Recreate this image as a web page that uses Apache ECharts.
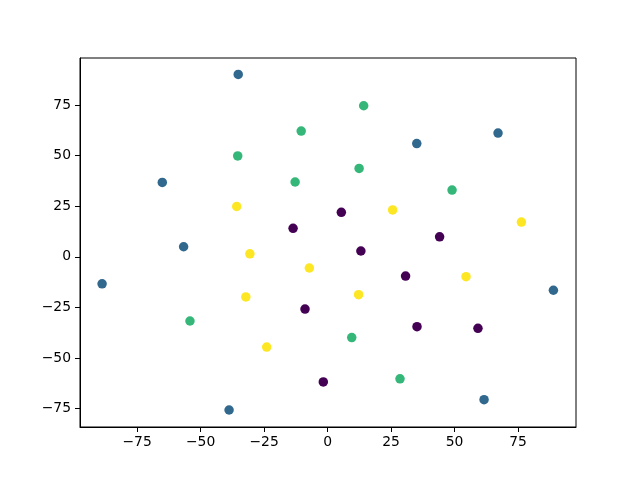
<!DOCTYPE html>
<html>
<head>
<meta charset="utf-8">
<script src="https://cdn.jsdelivr.net/npm/echarts@6/dist/echarts.min.js"></script>
<style>
html,body{margin:0;padding:0;background:#fff;}
#chart{width:640px;height:480px;}
</style>
</head>
<body>
<div id="chart"></div>
<script>
// Data
var class0 = [[-13.6,14.1],[5.4,22.0],[13.1,2.9],[44.1,9.9],[30.7,-9.5],[-8.9,-25.8],[35.2,-34.5],[59.2,-35.3],[-1.7,-61.8]];
var class1 = [[-35.2,90.2],[-65.1,36.8],[-56.7,5.0],[-88.8,-13.3],[-38.8,-75.7],[35.1,56.0],[67.1,61.2],[88.9,-16.5],[61.6,-70.6]];
var class2 = [[-10.4,62.2],[-35.4,49.9],[-12.8,37.0],[14.2,74.7],[12.4,43.7],[49.0,33.0],[-54.2,-31.7],[9.5,-39.9],[28.5,-60.3]];
var class3 = [[-35.8,24.9],[25.6,23.2],[76.3,17.2],[-30.6,1.5],[-7.2,-5.5],[-32.2,-19.8],[12.2,-18.7],[54.5,-9.8],[-24.0,-44.6]];
var classColors = ['#440154','#31688e','#35b779','#fde725'];
var xTicks = [-75,-50,-25,0,25,50,75];
var yTicks = [-75,-50,-25,0,25,50,75];
var xRange = [-97.5, 97.8];
var yRange = [-84.1, 98.3];

function fmt(v){ return v < 0 ? '\u2212' + Math.abs(v) : String(v); }

var chart = echarts.init(document.getElementById('chart'), null, {renderer:'canvas'});
var labelStyle = {color:'#000', fontFamily:'DejaVu Sans', fontSize:13.9, formatter: fmt};
var groups = [class0, class1, class2, class3];
var series = groups.map(function(d, i){
  return {
    type:'scatter', data:d, symbol:'circle', symbolSize:9.5,
    itemStyle:{color:classColors[i], opacity:1},
    emphasis:{disabled:true}
  };
});
chart.setOption({
  animation:false,
  backgroundColor:'#fff',
  grid:{left:80, top:58, width:496, height:369, show:true, borderColor:'#000', borderWidth:1, backgroundColor:'transparent', containLabel:false},
  xAxis:{
    type:'value', min:xRange[0], max:xRange[1],
    axisLine:{show:true, onZero:false, lineStyle:{color:'#000', width:1}},
    axisTick:{show:true, length:5, lineStyle:{color:'#000', width:1}, customValues:xTicks},
    axisLabel:Object.assign({margin:8, customValues:xTicks}, labelStyle),
    splitLine:{show:false}
  },
  yAxis:{
    type:'value', min:yRange[0], max:yRange[1],
    axisLine:{show:true, onZero:false, lineStyle:{color:'#000', width:1}},
    axisTick:{show:true, length:5, lineStyle:{color:'#000', width:1}, customValues:yTicks},
    axisLabel:Object.assign({margin:9, customValues:yTicks}, labelStyle),
    splitLine:{show:false}
  },
  series: series
});
</script>
</body>
</html>
